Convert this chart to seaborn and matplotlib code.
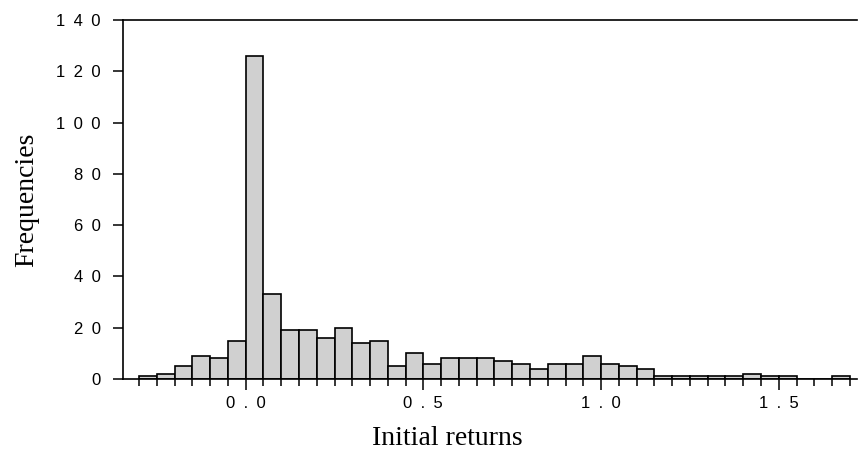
import numpy as np
import pandas as pd
import matplotlib
matplotlib.use("Agg")
import matplotlib.pyplot as plt
import seaborn as sns

# histogram of initial returns, bin width 0.05 starting at -0.30
bin_width = 0.05
bin_start = -0.30
counts = [1, 2, 5, 9, 8, 15, 126, 33, 19, 19, 16, 20, 14, 15, 5, 10,
          6, 8, 8, 8, 7, 6, 4, 6, 6, 9, 6, 5, 4, 1, 1, 1, 1, 1, 2, 1,
          1, 0, 0, 1]
x_major = [0.0, 0.5, 1.0, 1.5]
y_major = [0, 20, 40, 60, 80, 100, 120, 140]

edges = np.round(bin_start + bin_width * np.arange(len(counts) + 1), 2)
df = pd.DataFrame({"ret": (edges[:-1] + edges[1:]) / 2, "n": counts})

sns.set_style("ticks")
tick_font = ["Liberation Sans", "DejaVu Sans"]
label_font = ["Liberation Serif", "DejaVu Serif"]

fig = plt.figure(figsize=(8.58, 4.59), dpi=100)
ax = fig.add_axes([0.1434, 0.1743, 0.8554, 0.7821])

sns.histplot(data=df, x="ret", weights="n", binwidth=bin_width,
             binrange=(edges[0], edges[-1]), color="#d0d0d0",
             edgecolor="black", linewidth=1.2, alpha=1, ax=ax)

ax.set_xlim(-0.345, 1.72)
ax.set_ylim(0, 140)

sp = "\u2002"
ax.set_xticks(x_major, [sp.join(f"{v:.1f}") for v in x_major])
ax.set_xticks([e for e in edges if e not in x_major], minor=True)
ax.set_yticks(y_major, [sp.join(str(v)) for v in y_major])

ax.tick_params(axis="x", which="major", length=8, width=1.1, pad=4,
               labelsize=12, color="black", labelcolor="black")
ax.tick_params(axis="x", which="minor", length=5, width=1.1, color="black")
ax.tick_params(axis="y", length=7.2, width=1.1, pad=9, labelsize=12,
               color="black", labelcolor="black")
for lab in ax.get_xticklabels() + ax.get_yticklabels():
    lab.set_family(tick_font)

for side in ["left", "bottom", "top"]:
    ax.spines[side].set_visible(True)
    ax.spines[side].set_linewidth(1.2)
    ax.spines[side].set_color("black")
ax.spines["right"].set_visible(False)

ax.set_xlabel("Initial returns", fontsize=20, family=label_font, color="black")
ax.set_ylabel("Frequencies", fontsize=20, family=label_font, color="black")
ax.xaxis.set_label_coords(0.442, -0.131)
ax.yaxis.set_label_coords(-0.1144, 0.5)

fig.savefig("out.png", dpi=100)
